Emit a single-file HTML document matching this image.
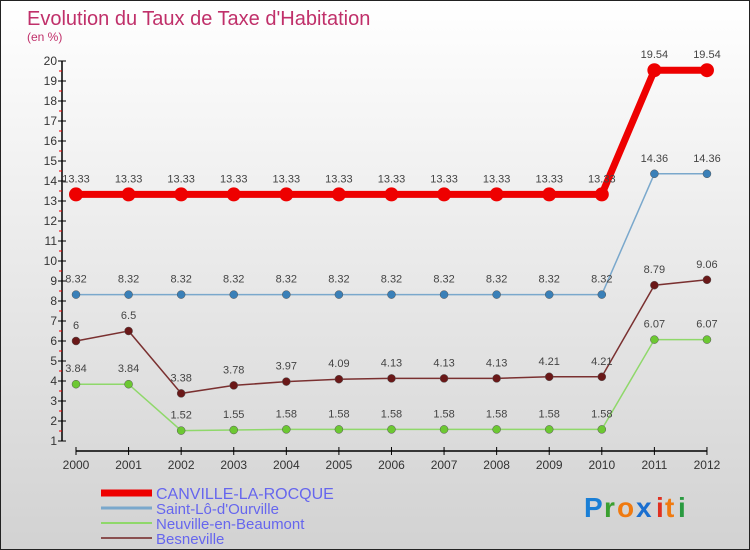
<!DOCTYPE html>
<html><head><meta charset="utf-8"><style>
body{margin:0}
#c{width:750px;height:550px;position:relative;box-sizing:border-box;border:1px solid #222;background:linear-gradient(#fff,#d2d2d2);font-family:"Liberation Sans",sans-serif;overflow:hidden}
</style></head><body>
<div id="c">
<svg id="s" width="748" height="548" style="position:absolute;left:0;top:0">
<text x="26" y="24" font-size="20" fill="#c0306a">Evolution du Taux de Taxe d'Habitation</text>
<text x="26" y="40" font-size="12" fill="#c0306a">(en %)</text>
<g id="ax"></g><g id="ser"></g>
<g id="leg"></g>
<g font-size="28" font-weight="bold">
<text x="583" y="516" fill="#1a7fd6">P</text><text x="603" y="516" fill="#3aa030">r</text><text x="616" y="516" fill="#f07a10">o</text><text x="635" y="516" fill="#1a6fd0">x</text><text x="655" y="516" fill="#e03020">i</text><text x="664" y="516" fill="#f07a10">t</text><text x="677" y="516" fill="#2a9a40">i</text>
</g>
</svg>
</div>
<script>
const years=[2000,2001,2002,2003,2004,2005,2006,2007,2008,2009,2010,2011,2012];
const canville=[13.33,13.33,13.33,13.33,13.33,13.33,13.33,13.33,13.33,13.33,13.33,19.54,19.54];
const saintlo=[8.32,8.32,8.32,8.32,8.32,8.32,8.32,8.32,8.32,8.32,8.32,14.36,14.36];
const neuville=[3.84,3.84,1.52,1.55,1.58,1.58,1.58,1.58,1.58,1.58,1.58,6.07,6.07];
const besneville=[6,6.5,3.38,3.78,3.97,4.09,4.13,4.13,4.13,4.21,4.21,8.79,9.06];
const yTicks=[1,2,3,4,5,6,7,8,9,10,11,12,13,14,15,16,17,18,19,20];
const names=["CANVILLE-LA-ROCQUE","Saint-Lô-d'Ourville","Neuville-en-Beaumont","Besneville"];
const NS="http://www.w3.org/2000/svg";
const x=i=>75+i*52.58, y=v=>440-(v-1)*20;
function mk(t,a,p){const e=document.createElementNS(NS,t);for(const k in a)e.setAttribute(k,a[k]);p.appendChild(e);return e;}
const ax=document.getElementById('ax');
let l=mk('line',{x1:61,y1:60,x2:61,y2:440,stroke:'#000','stroke-width':1.5},ax);


yTicks.forEach(v=>{
 let t=mk('line',{x1:57,x2:65,y1:y(v),y2:y(v),stroke:'#000'},ax);
 
 
 if(v<20){let h=mk('line',{x1:58,x2:61,y1:y(v+0.5),y2:y(v+0.5),stroke:'#e00'},ax);
 
 }
 let tx=mk('text',{x:56,y:y(v)+4,'font-size':12,'text-anchor':'end',fill:'#333'},ax);tx.textContent=v;
 
 
});
l=mk('line',{x1:75,y1:450,x2:706,y2:450,stroke:'#000','stroke-width':1.5},ax);


years.forEach((yr,i)=>{
 let t=mk('line',{x1:x(i),x2:x(i),y1:446,y2:454,stroke:'#000'},ax);
 
 
 let tx=mk('text',{x:x(i),y:468,'font-size':12,'text-anchor':'middle',fill:'#333'},ax);tx.textContent=yr;
 
 
});
const ser=document.getElementById('ser');
const specs=[[neuville,'#8fd86a','#6cc832',1.5,4],[besneville,'#7a3030','#6a1818',1.5,4],[saintlo,'#7aa8cc','#3a80b8',1.5,4],[canville,'#ee0000','#ee0000',7,7]];
const sn=['neuville','besneville','saint-lo','canville'];
specs.forEach(([d,lc,pc,w,r],k)=>{
 const g=mk('g',{},ser);
 
 
 const p=mk('polyline',{points:d.map((v,i)=>x(i)+','+y(v)).join(' '),fill:'none',stroke:lc,'stroke-width':w},g);
 
 
 d.forEach((v,i)=>{
  const c=mk('circle',{cx:x(i),cy:y(v),r:r,fill:pc,stroke:r>5?'none':'#555','stroke-width':0.5},g);
  
  
  const t=mk('text',{x:x(i),y:y(v)-12,'font-size':11,'text-anchor':'middle',fill:'#444'},g);t.textContent=v;
  
  
 });
});
const leg=document.getElementById('leg');
const lcols=['#ee0000','#7aa8cc','#8fd86a','#8a5050'],lw=[7,3,2,2];
names.forEach((n,i)=>{
 const ly=492+i*15;
 const g=mk('g',{},leg);
 
 
 mk('line',{x1:100,x2:151,y1:ly,y2:ly,stroke:lcols[i],'stroke-width':lw[i]},g);
 const t=mk('text',{x:155,y:ly+6,'font-size':i==0?16:15,fill:'#6666ee'},g);t.textContent=n;
});
</script>
</body></html>
